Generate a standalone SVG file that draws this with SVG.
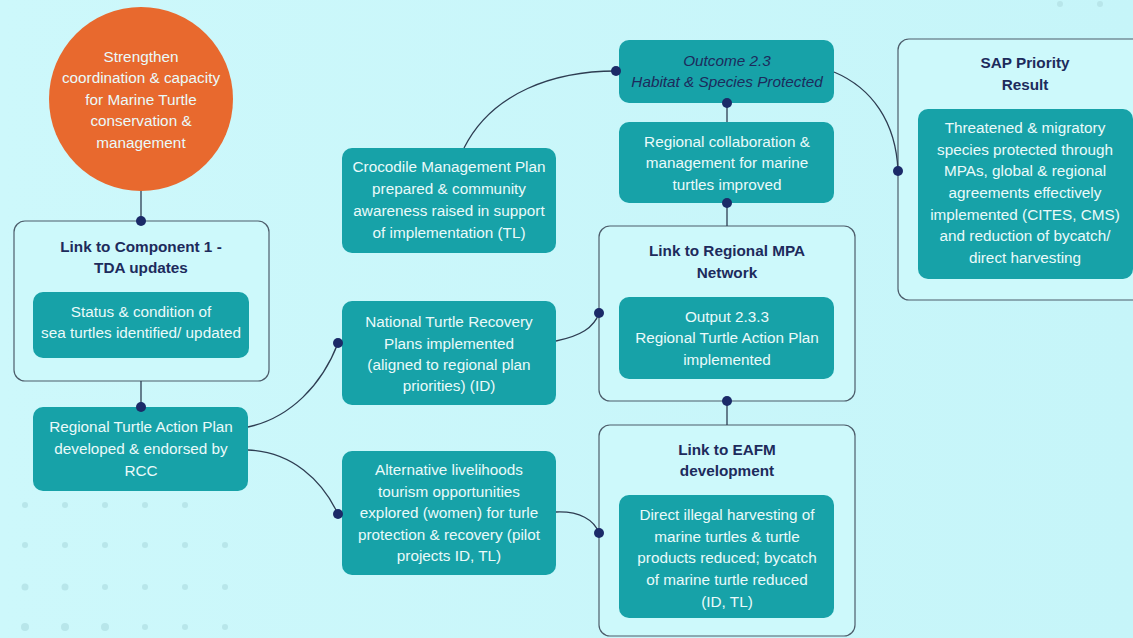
<svg xmlns="http://www.w3.org/2000/svg" width="1133" height="638" viewBox="0 0 1133 638">
<defs>
<linearGradient id="bg" x1="0" y1="0" x2="1" y2="0">
<stop offset="0" stop-color="#cdf8fb"/>
<stop offset="1" stop-color="#c6f5f9"/>
</linearGradient>
</defs>
<style>
.teal{fill:#17a2a8;}
.outer{fill:#cdf9fb;stroke:#4d5d6b;stroke-width:1.2;}
.t{font-family:"Liberation Sans",Arial,sans-serif;font-size:15.3px;fill:#eafafa;text-anchor:middle;}
.h{font-family:"Liberation Sans",Arial,sans-serif;font-size:15.3px;font-weight:bold;fill:#1d2b5c;text-anchor:middle;}
.it{font-family:"Liberation Sans",Arial,sans-serif;font-size:15.3px;font-style:italic;fill:#1d2b5c;text-anchor:middle;}
.c{fill:none;stroke:#2e3d52;stroke-width:1.3;}
.dot{fill:#1b2a68;}
.bd{fill:#b8e6ea;}
</style>
<rect width="1133" height="638" fill="url(#bg)"/>
<g id="decor">
<circle class="bd" cx="25" cy="505" r="3"/><circle class="bd" cx="65" cy="505" r="3"/><circle class="bd" cx="105" cy="505" r="3"/><circle class="bd" cx="145" cy="505" r="3"/><circle class="bd" cx="185" cy="505" r="3"/>
<circle class="bd" cx="25" cy="545" r="3"/><circle class="bd" cx="65" cy="545" r="3"/><circle class="bd" cx="105" cy="545" r="3"/><circle class="bd" cx="145" cy="545" r="3"/><circle class="bd" cx="185" cy="545" r="3"/><circle class="bd" cx="225" cy="545" r="3"/>
<circle class="bd" cx="25" cy="587" r="3.5"/><circle class="bd" cx="65" cy="587" r="3.5"/><circle class="bd" cx="105" cy="587" r="3"/><circle class="bd" cx="145" cy="587" r="3"/><circle class="bd" cx="185" cy="587" r="3"/><circle class="bd" cx="225" cy="587" r="3"/>
<circle class="bd" cx="25" cy="627" r="4"/><circle class="bd" cx="65" cy="627" r="4"/><circle class="bd" cx="105" cy="627" r="4"/><circle class="bd" cx="145" cy="627" r="3"/><circle class="bd" cx="185" cy="627" r="3"/><circle class="bd" cx="225" cy="627" r="3"/>
<circle class="bd" cx="1060" cy="4" r="3"/><circle class="bd" cx="1100" cy="4" r="3"/><circle class="bd" cx="1060" cy="78" r="3"/><circle class="bd" cx="1100" cy="78" r="3"/>
</g>
<g id="goal">
<circle cx="141" cy="99" r="92" fill="#e8692e"/>
<text class="t" x="141" y="62">Strengthen</text>
<text class="t" x="141" y="83">coordination &amp; capacity</text>
<text class="t" x="141" y="105">for Marine Turtle</text>
<text class="t" x="141" y="126">conservation &amp;</text>
<text class="t" x="141" y="148">management</text>
</g>
<g id="component1">
<rect class="outer" x="14" y="221" width="255" height="160" rx="11"/>
<text class="h" x="141" y="252">Link to Component 1 -</text>
<text class="h" x="141" y="273">TDA updates</text>
<rect class="teal" x="33" y="292" width="216" height="66" rx="10"/>
<text class="t" x="141" y="317">Status &amp; condition of</text>
<text class="t" x="141" y="338">sea turtles identified/ updated</text>
</g>
<g id="rtap">
<rect class="teal" x="33" y="407" width="215" height="84" rx="10"/>
<text class="t" x="141" y="432">Regional Turtle Action Plan</text>
<text class="t" x="141" y="454">developed &amp; endorsed by</text>
<text class="t" x="141" y="476">RCC</text>
</g>
<g id="crocodile">
<rect class="teal" x="342" y="148" width="214" height="105" rx="10"/>
<text class="t" x="449" y="172">Crocodile Management Plan</text>
<text class="t" x="449" y="194">prepared &amp; community</text>
<text class="t" x="449" y="216">awareness raised in support</text>
<text class="t" x="449" y="238">of implementation (TL)</text>
</g>
<g id="national">
<rect class="teal" x="342" y="301" width="214" height="104" rx="10"/>
<text class="t" x="449" y="327">National Turtle Recovery</text>
<text class="t" x="449" y="349">Plans implemented</text>
<text class="t" x="449" y="370">(aligned to regional plan</text>
<text class="t" x="449" y="391">priorities) (ID)</text>
</g>
<g id="alternative">
<rect class="teal" x="342" y="451" width="214" height="124" rx="10"/>
<text class="t" x="449" y="475">Alternative livelihoods</text>
<text class="t" x="449" y="497">tourism opportunities</text>
<text class="t" x="449" y="518">explored (women) for turle</text>
<text class="t" x="449" y="540">protection &amp; recovery (pilot</text>
<text class="t" x="449" y="561">projects ID, TL)</text>
</g>
<g id="outcome">
<rect class="teal" x="619" y="40" width="215" height="63" rx="10"/>
<text class="it" x="727" y="66">Outcome 2.3</text>
<text class="it" x="727" y="87">Habitat &amp; Species Protected</text>
</g>
<g id="collaboration">
<rect class="teal" x="619" y="122" width="215" height="81" rx="10"/>
<text class="t" x="727" y="147">Regional collaboration &amp;</text>
<text class="t" x="727" y="168">management for marine</text>
<text class="t" x="727" y="190">turtles improved</text>
</g>
<g id="mpa">
<rect class="outer" x="599" y="226" width="256" height="175" rx="11"/>
<text class="h" x="727" y="256">Link to Regional MPA</text>
<text class="h" x="727" y="278">Network</text>
<rect class="teal" x="619" y="297" width="215" height="82" rx="10"/>
<text class="t" x="727" y="322">Output 2.3.3</text>
<text class="t" x="727" y="343">Regional Turtle Action Plan</text>
<text class="t" x="727" y="365">implemented</text>
</g>
<g id="eafm">
<rect class="outer" x="599" y="425" width="256" height="211" rx="11"/>
<text class="h" x="727" y="455">Link to EAFM</text>
<text class="h" x="727" y="476">development</text>
<rect class="teal" x="619" y="495" width="215" height="123" rx="10"/>
<text class="t" x="727" y="520">Direct illegal harvesting of</text>
<text class="t" x="727" y="542">marine turtles &amp; turtle</text>
<text class="t" x="727" y="563">products reduced; bycatch</text>
<text class="t" x="727" y="585">of marine turtle reduced</text>
<text class="t" x="727" y="607">(ID, TL)</text>
</g>
<g id="sap">
<rect class="outer" x="898" y="39" width="250" height="261" rx="11"/>
<text class="h" x="1025" y="68">SAP Priority</text>
<text class="h" x="1025" y="90">Result</text>
<rect class="teal" x="918" y="109" width="215" height="170" rx="10"/>
<text class="t" x="1025" y="133">Threatened &amp; migratory</text>
<text class="t" x="1025" y="155">species protected through</text>
<text class="t" x="1025" y="176">MPAs, global &amp; regional</text>
<text class="t" x="1025" y="198">agreements effectively</text>
<text class="t" x="1025" y="220">implemented (CITES, CMS)</text>
<text class="t" x="1025" y="241">and reduction of bycatch/</text>
<text class="t" x="1025" y="263">direct harvesting</text>
</g>
<g id="connectors">
<line class="c" x1="141" y1="191" x2="141" y2="221"/>
<line class="c" x1="141" y1="381" x2="141" y2="407"/>
<path class="c" d="M248,427 C290,418 322,385 338,343"/>
<path class="c" d="M248,450 C292,452 322,480 338,514"/>
<path class="c" d="M556,341 C580,336 594,328 599,313"/>
<path class="c" d="M556,512 C580,511 594,520 599,533"/>
<path class="c" d="M464,148 C492,92 555,71 616,71"/>
<path class="c" d="M834,72 C872,88 896,122 898,171"/>
<line class="c" x1="727" y1="103" x2="727" y2="122"/>
<line class="c" x1="727" y1="203" x2="727" y2="226"/>
<line class="c" x1="727" y1="401" x2="727" y2="425"/>
<circle class="dot" cx="141" cy="221" r="5"/>
<circle class="dot" cx="141" cy="407" r="5"/>
<circle class="dot" cx="338" cy="343" r="5"/>
<circle class="dot" cx="338" cy="514" r="5"/>
<circle class="dot" cx="599" cy="313" r="5"/>
<circle class="dot" cx="599" cy="533" r="5"/>
<circle class="dot" cx="616" cy="71" r="5"/>
<circle class="dot" cx="727" cy="103" r="5"/>
<circle class="dot" cx="727" cy="203" r="5"/>
<circle class="dot" cx="727" cy="401" r="5"/>
<circle class="dot" cx="898" cy="171" r="5"/>
</g>
</svg>
